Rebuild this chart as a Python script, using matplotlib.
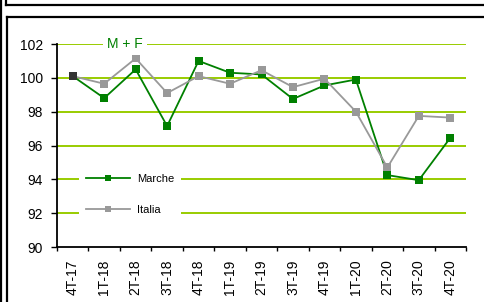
import matplotlib
matplotlib.use("Agg")
import matplotlib.pyplot as plt
from matplotlib.lines import Line2D
import numpy as np

plt.rcParams['font.family'] = ['Liberation Sans', 'DejaVu Sans']

categories = ["4T-17", "1T-18", "2T-18", "3T-18", "4T-18", "1T-19", "2T-19",
              "3T-19", "4T-19", "1T-20", "2T-20", "3T-20", "4T-20"]
marche = [100.1, 98.8, 100.5, 97.15, 101.0, 100.3, 100.2,
          98.75, 99.55, 99.9, 94.25, 93.95, 96.45]
italia = [100.1, 99.65, 101.15, 99.1, 100.1, 99.65, 100.45,
          99.45, 99.95, 98.0, 94.7, 97.75, 97.65]
yticks = [90, 92, 94, 96, 98, 100, 102]
title = "M + F"

W, H = 485, 302
fig = plt.figure(figsize=(W / 100, H / 100), dpi=100)

# frame decorations (figure coordinates)
def fx(px):
    return px / W

def fy(py):
    return 1 - py / H

fig.add_artist(Line2D([fx(1.5), fx(1.5)], [0, 1], color='black', lw=1.6))
fig.add_artist(Line2D([fx(6.5), fx(6.5)], [1, fy(5)], color='black', lw=1.6))
fig.add_artist(Line2D([fx(6.5), 1], [fy(5), fy(5)], color='black', lw=1.6))
fig.add_artist(Line2D([fx(7), fx(7)], [0, fy(16.5)], color='black', lw=1.6))
fig.add_artist(Line2D([fx(7), 1], [fy(16.5), fy(16.5)], color='black', lw=1.6))

left, right, top, bottom = 57, 466, 44, 247
ax = fig.add_axes([fx(left), fy(bottom), fx(right - left), (bottom - top) / H])

x = np.arange(len(categories))
ax.set_xlim(-0.5, len(categories) - 0.5)
ax.set_ylim(90, 102)

for yv in yticks[1:]:
    ax.axhline(yv, color='#99CC00', lw=1.4, zorder=1)

ax.plot(x, marche, color='#008000', lw=1.3, marker='s', markersize=6,
        markeredgewidth=0, zorder=3, label='Marche')
ax.plot(x, italia, color='#999999', lw=1.3, marker='s', markersize=6,
        markeredgewidth=0, zorder=4, label='Italia')
ax.plot(x[:1], marche[:1], linestyle='none', marker='s', markersize=6,
        markeredgewidth=0, color='#333333', zorder=5)

for s in ['top', 'right']:
    ax.spines[s].set_visible(False)
for s in ['left', 'bottom']:
    ax.spines[s].set_color('black')
    ax.spines[s].set_linewidth(1.3)

ax.set_yticks(yticks)
ax.set_yticklabels([str(v) for v in yticks], fontsize=10)
ax.tick_params(axis='y', direction='out', length=4.5, width=1, pad=5.5)

ax.set_xticks(np.arange(-0.5, len(categories)), minor=False)
ax.set_xticklabels([])
ax.tick_params(axis='x', which='major', direction='out', length=3, width=1)
ax.set_xticks(x, minor=True)
ax.set_xticklabels(categories, minor=True, rotation=90, fontsize=10)
ax.tick_params(axis='x', which='minor', length=0, pad=9)

ax.text((125 - left) / (right - left), 1.0, title, transform=ax.transAxes,
        ha='center', va='center', color='#008000', fontsize=10,
        bbox=dict(facecolor='white', edgecolor='none', pad=3), zorder=6)

handles = [Line2D([], [], color='#008000', lw=1.3, marker='s', markersize=4.5,
                  markeredgewidth=0),
           Line2D([], [], color='#999999', lw=1.3, marker='s', markersize=4.5,
                  markeredgewidth=0)]
leg = ax.legend(handles, ['Marche', 'Italia'], loc='upper left',
                bbox_to_anchor=((79 - left) / (right - left), 1 - (167 - top) / (bottom - top)),
                fontsize=8, frameon=True, facecolor='white', edgecolor='none',
                framealpha=1, fancybox=False, handlelength=4.0,
                handletextpad=0.6, labelspacing=1.95, borderpad=0.6,
                borderaxespad=0)
leg.set_zorder(6)

fig.savefig('out.png', dpi=100)
